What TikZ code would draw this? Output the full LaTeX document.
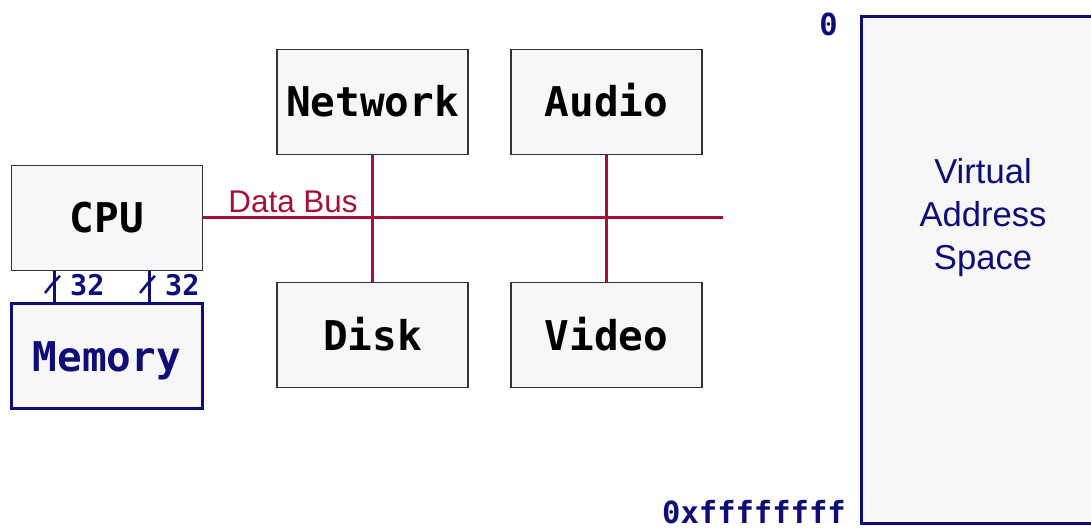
\documentclass[tikz,border=0pt]{standalone}
\usepackage{fontspec}
\setmainfont{Liberation Sans}
\setmonofont{DejaVu Sans Mono}
\usetikzlibrary{positioning}

\definecolor{busred}{RGB}{166,16,52}
\definecolor{addrblue}{RGB}{14,14,118}
\definecolor{boxfill}{RGB}{247,247,247}

\begin{document}
\begin{tikzpicture}[ x=1pt , y=-1pt , node distance =234pt , on grid ,
  devbox/.style={ draw=black!80 , line width=1.5pt , fill=boxfill , minimum width=191pt , minimum height=105pt , inner sep=0pt , text height=30pt , text depth=0pt , font=\fontsize{41}{41}\selectfont\ttfamily\bfseries },
  membox/.style={ devbox , draw=addrblue , line width=3.5pt , text=addrblue },
  vasbox/.style={ draw=addrblue , line width=3pt , fill=boxfill , minimum width=243pt , minimum height=507pt , inner sep=0pt },
  vastext/.style={ text=addrblue , align=center , inner sep=0pt , font=\fontsize{34.6}{43}\selectfont },
  bus/.style={ draw=busred , line width=3pt },
  wire/.style={ draw=addrblue , line width=3pt },
  buslabel/.style={ text=busred , inner sep=0pt , font=\fontsize{31.4}{31.4}\selectfont },
  bitlabel/.style={ text=addrblue , inner sep=0pt , font=\fontsize{28.5}{28.5}\selectfont\ttfamily\bfseries },
  addrlabel/.style={ text=addrblue , inner sep=0pt , font=\fontsize{30.5}{30.5}\selectfont\ttfamily\bfseries } ]
\useasboundingbox (0,0) rectangle (1091,529);

\node [ devbox ] (cpu) at (107,218) {CPU};
\node [ membox ] (mem) [ below = 138pt of cpu ] {Memory};
\node [ devbox ] (net) at (372.5,102) {Network};
\node [ devbox ] (audio) [ right = of net ] {Audio};
\node [ devbox ] (disk) [ below = 233pt of net ] {Disk};
\node [ devbox ] (video) [ below = 233pt of audio ] {Video};
\coordinate (busend) at (723,218);

\path [ bus ]
(cpu.east) edge (busend)
(net.south) edge (disk.north)
(audio.south) edge (video.north);
\node [ buslabel , anchor=base west ] (busname) at ([xshift=25pt,yshift=5pt]cpu.east) {Data Bus};

% 32 bit wires between cpu and memory
\foreach \dx/\nm in {-53/lo,42/hi} {
  \draw [ wire ] ([xshift=\dx pt]cpu.south) -- coordinate [ pos=0.45 ] (tick\nm) ([xshift=\dx pt]mem.north);
  \draw [ addrblue , line width=2.5pt ] ([shift={(-9pt,-8pt)}]tick\nm) .. controls ([shift={(-1pt,2pt)}]tick\nm) .. ([shift={(6pt,9pt)}]tick\nm);
  \node [ bitlabel , anchor=west ] (bits\nm) at ([xshift=16pt]tick\nm) {32};
}

\node [ vasbox ] (vas) at (983,270) {};
\node [ vastext ] (vasname) at (983,218) {Virtual\\Address\\Space};
\node [ addrlabel , anchor=east ] (addrlo) at ([xshift=-22pt,yshift=-9pt]vas.north west) {0};
\node [ addrlabel , anchor=east ] (addrhi) at ([xshift=-14pt,yshift=12.5pt]vas.south west) {0xffffffff};
\end{tikzpicture}
\end{document}
